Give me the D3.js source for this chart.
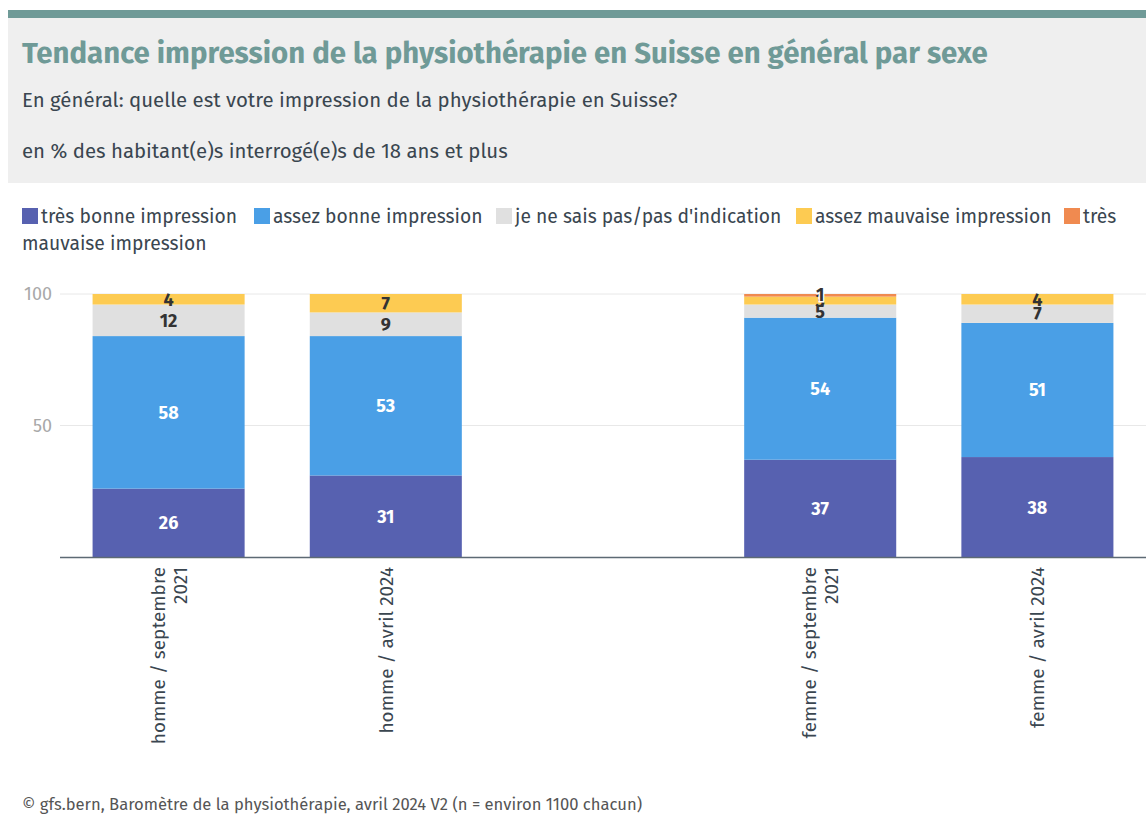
<!DOCTYPE html>
<html>
<head>
<meta charset="utf-8">
<script src="https://cdn.jsdelivr.net/npm/d3@7"></script>
<style>
  body { margin: 0; background: #fff; }
  svg { display: block; font-family: "Fira Sans", "Noto Sans", sans-serif; }
</style>
</head>
<body>
<svg id="chart" width="1146" height="829"></svg>
<script>

// ---- data ----
var categories = [
    ['homme / septembre', '2021'],
    ['homme / avril 2024'],
    null,
    ['femme / septembre', '2021'],
    ['femme / avril 2024']
];

var seriesNames = [
    'très bonne impression',
    'assez bonne impression',
    "je ne sais pas/pas d'indication",
    'assez mauvaise impression',
    'très mauvaise impression'
];

var tresBonne   = [26, 31, null, 37, 38];
var assezBonne  = [58, 53, null, 54, 51];
var neSaisPas   = [12,  9, null,  5,  7];
var assezMauv   = [ 4,  7, null,  3,  4];
var tresMauv    = [ 0,  0, null,  1,  0];

var yTicks = [50, 100];

var colors = ['#5761b0', '#4a9fe6', '#e0e0e0', '#fdcb52', '#f08a50'];
var labelColors = ['#fff', '#fff', '#333', '#333', '#333'];

var series = [tresBonne, assezBonne, neSaisPas, assezMauv, tresMauv];


// ---- layout ----
var svg = d3.select('#chart');

var margin = { left: 60, right: 1146, top: 294, bottom: 557 };

svg.append('rect')
    .attr('x', 8).attr('y', 18).attr('width', 1138).attr('height', 165)
    .attr('fill', '#efefef');
svg.append('rect')
    .attr('x', 8).attr('y', 10).attr('width', 1138).attr('height', 8)
    .attr('fill', '#6f9a97');

svg.append('text')
    .attr('x', 22).attr('y', 63)
    .attr('fill', '#6f9a97')
    .attr('font-size', 29.4).attr('font-weight', 700)
    .text('Tendance impression de la physiothérapie en Suisse en général par sexe');

svg.append('text')
    .attr('x', 22).attr('y', 107)
    .attr('fill', '#3a4650').attr('font-size', 20.4)
    .text('En général: quelle est votre impression de la physiothérapie en Suisse?');

svg.append('text')
    .attr('x', 22).attr('y', 158)
    .attr('fill', '#3a4650').attr('font-size', 20.4)
    .text('en % des habitant(e)s interrogé(e)s de 18 ans et plus');


// ---- legend ----
var legendX = [22, 254, 496, 796, 1064];

var legend = svg.append('g').attr('class', 'legend')
    .attr('fill', '#3a4650').attr('font-size', 19.3);

seriesNames.forEach(function (name, i) {
    var g = legend.append('g').attr('transform', 'translate(' + legendX[i] + ',0)');
    g.append('rect')
        .attr('x', 0).attr('y', 208).attr('width', 16).attr('height', 16)
        .attr('fill', colors[i]);
    if (i === 4) {
        g.append('text').attr('x', 19).attr('y', 223).text('très');
        legend.append('text').attr('x', 22).attr('y', 250).text('mauvaise impression');
    } else {
        g.append('text').attr('x', 19).attr('y', 223).text(name);
    }
});


// ---- scales ----
var x = d3.scaleBand()
    .domain(d3.range(categories.length))
    .range([margin.left, margin.right])
    .paddingInner(0.3)
    .paddingOuter(0.15);

var y = d3.scaleLinear()
    .domain([0, 100])
    .range([margin.bottom, margin.top]);

// grid
var grid = svg.append('g');
yTicks.forEach(function (t) {
    grid.append('line')
        .attr('x1', margin.left).attr('x2', margin.right)
        .attr('y1', y(t)).attr('y2', y(t))
        .attr('stroke', '#e8e8e8').attr('stroke-width', 1);
    grid.append('text')
        .attr('x', 52).attr('y', y(t) + 6)
        .attr('text-anchor', 'end')
        .attr('fill', '#a8a8a8').attr('font-size', 18)
        .text(t);
});


// ---- bars ----
var stacks = categories.map(function (c, i) {
    var acc = 0;
    return series.map(function (s, k) {
        var v = s[i] || 0;
        var seg = { cat: i, k: k, y0: acc, y1: acc + v, v: v };
        acc += v;
        return seg;
    });
});

var bars = svg.append('g');
stacks.forEach(function (segs, i) {
    if (!categories[i]) return;
    bars.selectAll(null)
        .data(segs.filter(function (d) { return d.v > 0; }))
        .enter()
        .append('rect')
        .attr('x', x(i))
        .attr('width', x.bandwidth())
        .attr('y', function (d) { return y(d.y1); })
        .attr('height', function (d) { return y(d.y0) - y(d.y1); })
        .attr('fill', function (d) { return colors[d.k]; });
});

// axis baseline
svg.append('line')
    .attr('x1', margin.left).attr('x2', margin.right)
    .attr('y1', margin.bottom + 0.5).attr('y2', margin.bottom + 0.5)
    .attr('stroke', '#5d6a74').attr('stroke-width', 1.5);


// ---- value labels ----
var labels = svg.append('g')
    .attr('font-size', 18).attr('font-weight', 700)
    .attr('text-anchor', 'middle');

stacks.forEach(function (segs, i) {
    if (!categories[i]) return;
    segs.filter(function (d) { return d.v > 0; }).forEach(function (d) {
        var cy = (y(d.y0) + y(d.y1)) / 2;
        var t = labels.append('text')
            .attr('x', x(i) + x.bandwidth() / 2)
            .attr('y', cy + 6.5)
            .attr('fill', labelColors[d.k])
            .text(d.v);
        if (d.k === 4) {
            t.attr('y', cy + 6)
                .attr('stroke', '#fff').attr('stroke-width', 3)
                .attr('paint-order', 'stroke');
        }
    });
});


// ---- x labels ----
var xLabels = svg.append('g')
    .attr('font-size', 19).attr('fill', '#3a4650');

categories.forEach(function (c, i) {
    if (!c) return;
    var cx = x(i) + x.bandwidth() / 2;
    var lineH = 22;
    var startX = cx - (c.length - 1) * lineH / 2;
    var g = xLabels.append('g');
    c.forEach(function (line, j) {
        g.append('text')
            .attr('transform', 'translate(' + (startX + j * lineH + 7) + ',567) rotate(-90)')
            .attr('text-anchor', 'end')
            .text(line);
    });
});


// ---- footer ----
svg.append('text')
    .attr('x', 22).attr('y', 810)
    .attr('fill', '#555').attr('font-size', 16.6)
    .text('© gfs.bern, Baromètre de la physiothérapie, avril 2024 V2 (n = environ 1100 chacun)');

</script>
</body>
</html>
